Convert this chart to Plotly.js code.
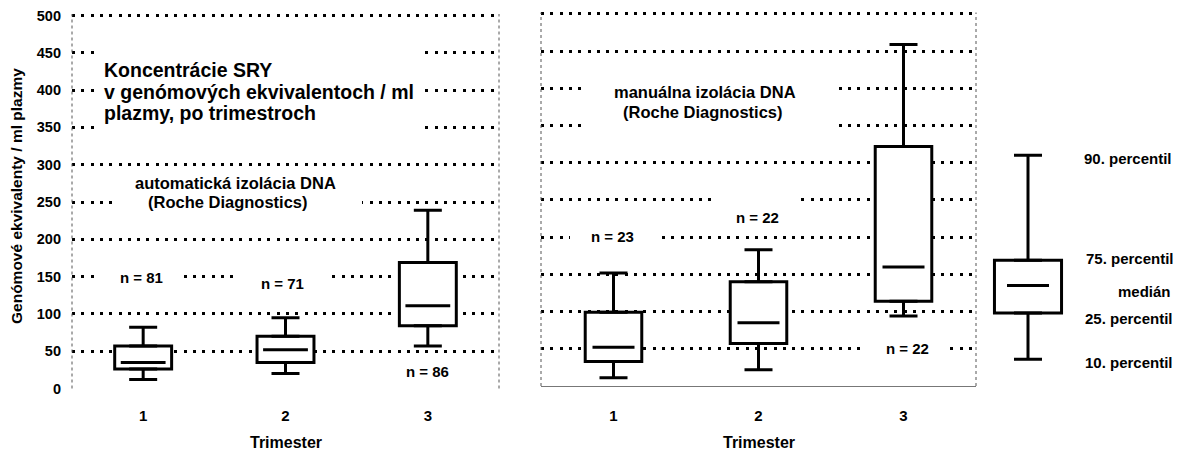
<!DOCTYPE html>
<html><head><meta charset="utf-8">
<script src="https://cdn.plot.ly/plotly-3.0.1.min.js"></script>
<style>html,body{margin:0;padding:0;background:#fff}#chart{width:1186px;height:450px}</style>
</head><body><div id="chart"></div>
<script>
// ---------------- data ----------------
const trimesters = [1, 2, 3];
const trimesterLabels = ['1', '2', '3'];

// automatická izolácia DNA (left panel)
const autoP10    = [12, 20, 57];
const autoP25    = [26, 35, 84];
const autoMedian = [35, 52, 111];
const autoP75    = [57, 70, 169];
const autoP90    = [82, 95, 239];
const autoN      = ['n = 81', 'n = 71', 'n = 86'];

// manuálna izolácia DNA (right panel)
const manP10    = [11, 22, 94];
const manP25    = [33, 57, 114];
const manMedian = [52, 85, 160];
const manP75    = [99, 140, 322];
const manP90    = [152, 183, 459];
const manN      = ['n = 23', 'n = 22', 'n = 22'];

// key box
const keyCat    = ['key'];
const keyP10    = [36];
const keyP25    = [98];
const keyMedian = [135];
const keyP75    = [169];
const keyP90    = [310];
const keyLabels = ['90. percentil', '75. percentil', 'medián', '25. percentil', '10. percentil'];

const titleLines = ['Koncentrácie SRY', 'v genómových ekvivalentoch / ml', 'plazmy, po trimestroch'];
const autoLabel = ['automatická izolácia DNA', '(Roche Diagnostics)'];
const manLabel  = ['manuálna izolácia DNA', '(Roche Diagnostics)'];
const xTitle = 'Trimester';
const yTitle = 'Genómové ekvivalenty / ml plazmy';

// ---------------- helpers ----------------
const W = 1186, H = 450;
const px = x => x / W;
const py = y => 1 - y / H;
const FONT = 'Liberation Sans, Arial, sans-serif';

function boxTraces(xs, p10, p25, med, p75, p90, xa, ya, boxW, capHalf, medLen) {
  const zeros = xs.map(() => 0);
  return [
    { type: 'bar', x: xs, base: p25, y: p75.map((v, i) => v - p25[i]), width: boxW,
      marker: { color: '#fff', line: { color: '#000', width: 3 } },
      xaxis: xa, yaxis: ya, hoverinfo: 'skip' },
    { type: 'scatter', mode: 'markers', x: xs, y: p75,
      marker: { size: 1, color: 'rgba(0,0,0,0)' },
      error_y: { type: 'data', symmetric: false, array: p90.map((v, i) => v - p75[i]), arrayminus: zeros,
                 color: '#000', thickness: 3, width: capHalf },
      xaxis: xa, yaxis: ya, hoverinfo: 'skip' },
    { type: 'scatter', mode: 'markers', x: xs, y: p25,
      marker: { size: 1, color: 'rgba(0,0,0,0)' },
      error_y: { type: 'data', symmetric: false, array: zeros, arrayminus: p25.map((v, i) => v - p10[i]),
                 color: '#000', thickness: 3, width: capHalf },
      xaxis: xa, yaxis: ya, hoverinfo: 'skip' },
    { type: 'scatter', mode: 'markers', x: xs, y: med,
      marker: { symbol: 'line-ew', size: medLen, color: '#000', line: { color: '#000', width: 3 } },
      xaxis: xa, yaxis: ya, hoverinfo: 'skip' }
  ];
}

const data = [].concat(
  boxTraces(trimesters, autoP10, autoP25, autoMedian, autoP75, autoP90, 'x', 'y', 0.40, 14, 32),
  boxTraces(trimesters, manP10, manP25, manMedian, manP75, manP90, 'x2', 'y2', 0.39, 14, 30),
  boxTraces(keyCat, keyP10, keyP25, keyMedian, keyP75, keyP90, 'x3', 'y3', 0.78, 14, 30)
);

function ann(text, x, y, size, opt) {
  return Object.assign({
    text: '<b>' + text + '</b>', xref: 'paper', yref: 'paper', x: px(x), y: py(y),
    xanchor: 'center', yanchor: 'middle', showarrow: false,
    font: { family: FONT, size: size, color: '#000' }
  }, opt || {});
}

const annotations = [];
const titleY = [70, 92, 113];
titleLines.forEach((t, i) => annotations.push(ann(t, 102, titleY[i], 19.5, { xanchor: 'left' })));
const autoPos = [[235, 183], [228, 202]];
autoLabel.forEach((t, i) => annotations.push(ann(t, autoPos[i][0], autoPos[i][1], 16.5)));
const manPos = [[705, 92], [703, 112]];
manLabel.forEach((t, i) => annotations.push(ann(t, manPos[i][0], manPos[i][1], 16.5)));
const autoNPos = [[141, 277], [282, 283], [427, 371]];
autoN.forEach((t, i) => annotations.push(ann(t, autoNPos[i][0], autoNPos[i][1], 15)));
const manNPos = [[612, 236], [757, 217], [907, 348]];
manN.forEach((t, i) => annotations.push(ann(t, manNPos[i][0], manNPos[i][1], 15)));
annotations.push(ann(xTitle, 286, 442, 16));
annotations.push(ann(xTitle, 759, 442, 16));
annotations.push(ann(yTitle, 17, 196, 15.5, { textangle: -90 }));
const keyPos = [[1082, 158, 'left'], [1084, 258, 'left'], [1144, 291, 'center'], [1083, 318, 'left'], [1083, 362, 'left']];
keyLabels.forEach((t, i) => annotations.push(ann(t, keyPos[i][0], keyPos[i][1], 15, { xanchor: keyPos[i][2] })));

// white gaps in the dotted grid behind texts (they overlap no box)
const gaps = [[98, 421, 45, 134], [117, 362, 190, 214], [97, 178, 268, 290], [233, 327, 270, 296],
              [583, 835, 80, 135], [570, 657, 228, 246], [715, 798, 194, 230], [860, 947, 340, 356]];
const shapes = gaps.map(g => ({ type: 'rect', xref: 'paper', yref: 'paper', layer: 'above',
  x0: px(g[0]), x1: px(g[1]), y0: py(g[3]), y1: py(g[2]), fillcolor: '#fff', line: { width: 0 } }));
[['x', 'y'], ['x2', 'y2']].forEach(([xa, ya]) => [0, 1].forEach(v => shapes.push({
  type: 'line', xref: xa + ' domain', yref: ya + ' domain', x0: v, x1: v, y0: 0, y1: 1,
  line: { color: '#555', width: 1, dash: 'dot' } })));

const grid = { showgrid: true, gridcolor: '#000', gridwidth: 3, griddash: '3px,6.3px',
               zeroline: false, showline: false, ticks: '', range: [0, 502], tick0: 0, dtick: 50 };
const xcommon = { range: [0.5, 3.5], tickvals: trimesters, ticktext: trimesterLabels, showgrid: false,
                  zeroline: false, ticks: '', ticklabelstandoff: 16,
                  tickfont: { family: FONT, size: 15, color: '#000', weight: 'bold' } };

const layout = {
  width: W, height: H, margin: { l: 0, r: 0, t: 0, b: 0 },
  paper_bgcolor: '#fff', plot_bgcolor: 'rgba(0,0,0,0)', showlegend: false, barmode: 'overlay',
  font: { family: FONT, color: '#000' },
  xaxis: Object.assign({}, xcommon, { domain: [px(72), px(499)], anchor: 'y', showline: false }),
  yaxis: Object.assign({}, grid, { domain: [py(388.5), py(14)], anchor: 'x', ticklabelstandoff: 10,
                                   tickfont: { family: FONT, size: 14.5, color: '#000', weight: 'bold' } }),
  xaxis2: Object.assign({}, xcommon, { domain: [px(541), px(976)], anchor: 'y2', showline: true,
                                       linecolor: '#777', linewidth: 1 }),
  yaxis2: Object.assign({}, grid, { domain: [py(386), py(12.5)], anchor: 'x2', showticklabels: false }),
  xaxis3: { domain: [px(985), px(1071)], anchor: 'y3', type: 'category', range: [-0.5, 0.5], visible: false },
  yaxis3: { domain: [py(386), py(12.5)], anchor: 'x3', range: [0, 502], visible: false },
  annotations: annotations,
  shapes: shapes
};

Plotly.newPlot('chart', data, layout, { staticPlot: true, displayModeBar: false });
</script></body></html>
